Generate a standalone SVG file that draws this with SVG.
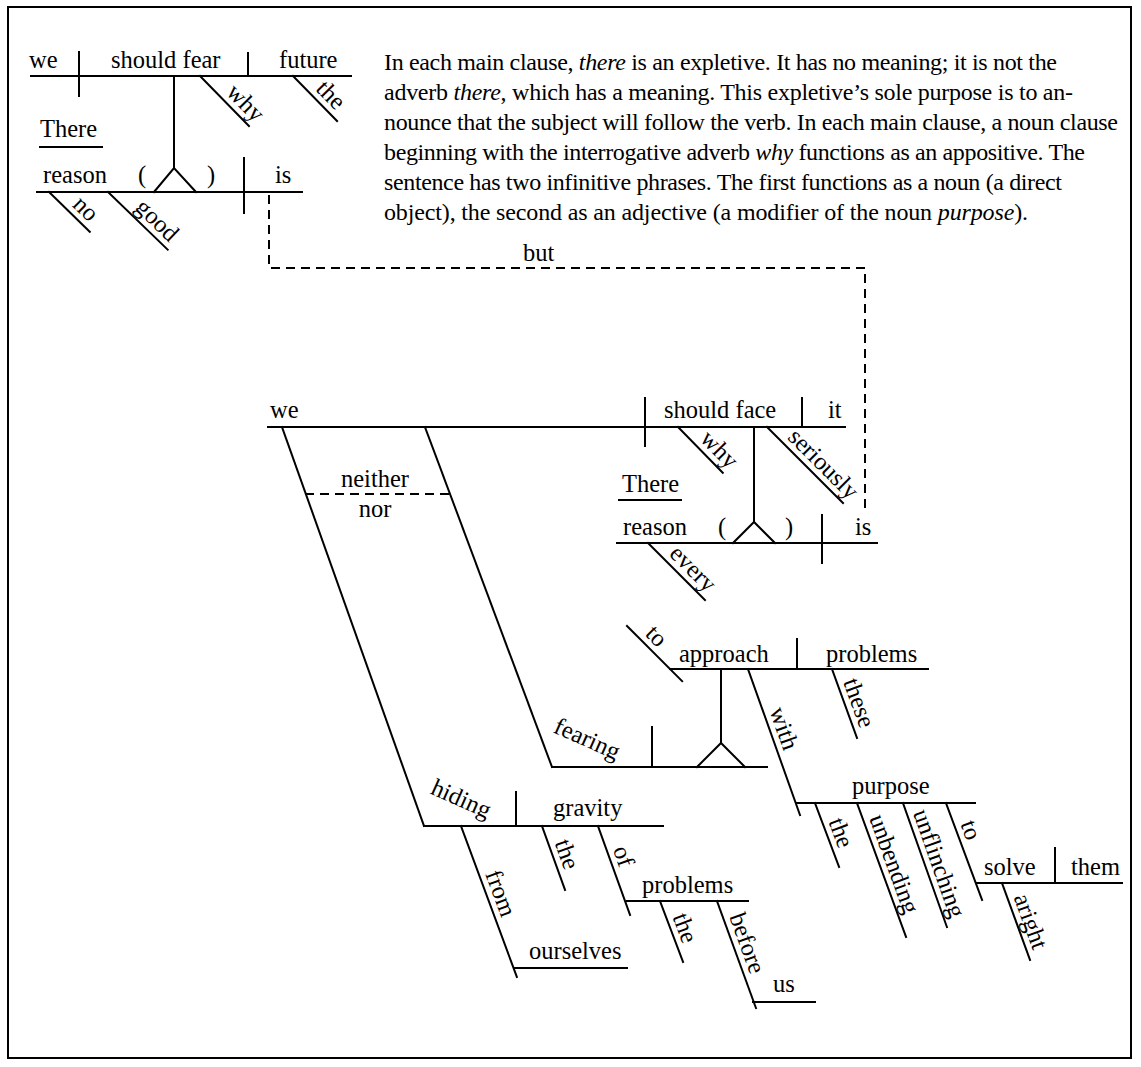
<svg xmlns="http://www.w3.org/2000/svg" width="1141" height="1067" viewBox="0 0 1141 1067">
<style>
.ln{stroke:#000;stroke-width:2;fill:none;stroke-linecap:square}
.ds{stroke:#000;stroke-width:2;fill:none;stroke-dasharray:9 6}
text{font-family:"Liberation Serif","Times New Roman",serif;font-size:24.5px;fill:#000}
.p{font-size:24px}
.m{text-anchor:middle}
</style>
<rect x="0" y="0" width="1141" height="1067" fill="#fff"/>
<rect x="8" y="7" width="1123" height="1051" fill="none" stroke="#000" stroke-width="2"/>

<g id="paragraph">
<text class="p" x="384" y="70" textLength="673" lengthAdjust="spacing">In each main clause, <tspan font-style="italic">there</tspan> is an expletive. It has no meaning; it is not the</text>
<text class="p" x="384" y="100" textLength="689" lengthAdjust="spacing">adverb <tspan font-style="italic">there</tspan>, which has a meaning. This expletive’s sole purpose is to an-</text>
<text class="p" x="384" y="130" textLength="734" lengthAdjust="spacing">nounce that the subject will follow the verb. In each main clause, a noun clause</text>
<text class="p" x="384" y="160" textLength="701" lengthAdjust="spacing">beginning with the interrogative adverb <tspan font-style="italic">why</tspan> functions as an appositive. The</text>
<text class="p" x="384" y="190" textLength="678" lengthAdjust="spacing">sentence has two infinitive phrases. The first functions as a noun (a direct</text>
<text class="p" x="384" y="220" textLength="644" lengthAdjust="spacing">object), the second as an adjective (a modifier of the noun <tspan font-style="italic">purpose</tspan>).</text>
</g>

<!-- Clause 1 -->
<g id="c1-main">
<line class="ln" x1="31" y1="76" x2="351" y2="76"/>
<line class="ln" x1="79" y1="52" x2="79" y2="96"/>
<line class="ln" x1="248" y1="53" x2="248" y2="76"/>
<text x="29" y="68">we</text>
<text x="111" y="68">should fear</text>
<text x="279" y="68">future</text>
</g>
<g id="c1-why" transform="translate(200,76) rotate(45.6)"><line class="ln" x1="0" y1="0" x2="70" y2="0"/><text class="m" x="51" y="-6">why</text></g>
<g id="c1-the" transform="translate(293,76) rotate(45.6)"><line class="ln" x1="0" y1="0" x2="63" y2="0"/><text class="m" x="40" y="-6">the</text></g>
<g id="c1-there">
<text x="40" y="137">There</text>
<line class="ln" x1="40" y1="147" x2="102" y2="147"/>
</g>
<g id="c1-reason">
<line class="ln" x1="37" y1="192" x2="302" y2="192"/>
<line class="ln" x1="244" y1="158" x2="244" y2="213"/>
<text x="43" y="183">reason</text>
<text x="138" y="183">(</text>
<text x="207" y="183">)</text>
<text x="275" y="183">is</text>
</g>
<g id="c1-no" transform="translate(49,192) rotate(44.3)"><line class="ln" x1="0" y1="0" x2="57" y2="0"/><text class="m" x="38" y="-6">no</text></g>
<g id="c1-good" transform="translate(108,192) rotate(44)"><line class="ln" x1="0" y1="0" x2="83" y2="0"/><text class="m" x="55" y="-6">good</text></g>

<!-- Clause 2 -->
<g id="c2-main">
<line class="ln" x1="268" y1="427" x2="845" y2="427"/>
<line class="ln" x1="645" y1="398" x2="645" y2="446"/>
<line class="ln" x1="802" y1="398" x2="802" y2="427"/>
<text x="270" y="418">we</text>
<text x="664" y="418">should face</text>
<text x="828" y="418">it</text>
</g>
<g id="c2-why" transform="translate(678,427) rotate(45.6)"><line class="ln" x1="0" y1="0" x2="64" y2="0"/><text class="m" x="45" y="-6">why</text></g>
<g id="c2-seriously" transform="translate(767,427) rotate(45)"><line class="ln" x1="0" y1="0" x2="107.5" y2="0"/><text class="m" x="66" y="-6">seriously</text></g>
<g id="c2-there">
<text x="622" y="492">There</text>
<line class="ln" x1="619" y1="500" x2="681" y2="500"/>
</g>
<g id="c2-reason">
<line class="ln" x1="617" y1="543" x2="877" y2="543"/>
<line class="ln" x1="822" y1="515" x2="822" y2="563"/>
<text x="623" y="535">reason</text>
<text x="718" y="535">(</text>
<text x="785" y="535">)</text>
<text x="855" y="535">is</text>
</g>
<g id="c2-every" transform="translate(648,543) rotate(45)"><line class="ln" x1="0" y1="0" x2="80.6" y2="0"/><text class="m" x="50" y="-6">every</text></g>

<!-- fearing phrase -->
<g id="fearing">
<line class="ln" x1="552" y1="767" x2="767" y2="767"/>
<line class="ln" x1="652" y1="727" x2="652" y2="767"/>
<text class="m" transform="translate(584,746) rotate(24)">fearing</text>
</g>
<g id="approach">
<line class="ln" x1="670" y1="669" x2="928" y2="669"/>
<line class="ln" x1="797" y1="639" x2="797" y2="669"/>
<text x="679" y="662">approach</text>
<text x="826" y="662">problems</text>
</g>
<g id="to1" transform="translate(627,626) rotate(45)"><line class="ln" x1="0" y1="0" x2="78" y2="0"/><text class="m" x="28" y="-6">to</text></g>
<g id="these" transform="translate(832,669) rotate(70.1)"><line class="ln" x1="0" y1="0" x2="73.4" y2="0"/><text class="m" x="41" y="-6">these</text></g>
<g id="with" transform="translate(748,669) rotate(70.4)"><line class="ln" x1="0" y1="0" x2="155" y2="0"/><text class="m" x="68" y="-6">with</text></g>
<g id="purpose">
<line class="ln" x1="796" y1="803" x2="975" y2="803"/>
<text x="852" y="794">purpose</text>
</g>
<g id="the3" transform="translate(815,803) rotate(69.4)"><line class="ln" x1="0" y1="0" x2="68.4" y2="0"/><text class="m" x="37" y="-6">the</text></g>
<g id="unbending" transform="translate(857,803) rotate(69.9)"><line class="ln" x1="0" y1="0" x2="142.7" y2="0"/><text class="m" x="70" y="-6">unbending</text></g>
<g id="unflinching" transform="translate(903,803) rotate(70.5)"><line class="ln" x1="0" y1="0" x2="131.6" y2="0"/><text class="m" x="69" y="-6">unflinching</text></g>
<g id="to2" transform="translate(946,803) rotate(69.6)"><line class="ln" x1="0" y1="0" x2="103.5" y2="0"/><text class="m" x="34" y="-6">to</text></g>
<g id="solve">
<line class="ln" x1="977" y1="883" x2="1122" y2="883"/>
<line class="ln" x1="1055" y1="848" x2="1055" y2="883"/>
<text x="984" y="875">solve</text>
<text x="1071" y="875">them</text>
</g>
<g id="aright" transform="translate(1002,883) rotate(70)"><line class="ln" x1="0" y1="0" x2="81.9" y2="0"/><text class="m" x="46" y="-6">aright</text></g>

<!-- hiding phrase -->
<g id="hiding">
<line class="ln" x1="424" y1="826" x2="663" y2="826"/>
<line class="ln" x1="516" y1="792" x2="516" y2="826"/>
<text class="m" transform="translate(458,806) rotate(24)">hiding</text>
<text x="553" y="816">gravity</text>
</g>
<g id="from" transform="translate(461,826) rotate(69.7)"><line class="ln" x1="0" y1="0" x2="161" y2="0"/><text class="m" x="77" y="-6">from</text></g>
<g id="ourselves">
<line class="ln" x1="515" y1="968" x2="627" y2="968"/>
<text x="529" y="959">ourselves</text>
</g>
<g id="the4" transform="translate(542,826) rotate(70.2)"><line class="ln" x1="0" y1="0" x2="68" y2="0"/><text class="m" x="35" y="-6">the</text></g>
<g id="of" transform="translate(598,826) rotate(70.2)"><line class="ln" x1="0" y1="0" x2="94.6" y2="0"/><text class="m" x="37" y="-6">of</text></g>
<g id="problems2">
<line class="ln" x1="627" y1="901" x2="748" y2="901"/>
<text x="642" y="893">problems</text>
</g>
<g id="the5" transform="translate(660,901) rotate(69.3)"><line class="ln" x1="0" y1="0" x2="65.2" y2="0"/><text class="m" x="34" y="-6">the</text></g>
<g id="before" transform="translate(717,901) rotate(70)"><line class="ln" x1="0" y1="0" x2="113.9" y2="0"/><text class="m" x="50" y="-6">before</text></g>
<g id="us">
<line class="ln" x1="753" y1="1002" x2="815" y2="1002"/>
<text x="773" y="992">us</text>
</g>

<g id="connectors">
<line class="ln" x1="174" y1="76" x2="174" y2="168"/>
<polyline class="ln" points="154,192 174,168 196,192"/>
<line class="ln" x1="754" y1="427" x2="754" y2="522"/>
<polyline class="ln" points="733,543 754,522 775,543"/>
<polyline class="ds" points="269,195 269,268 865,268 865,508"/>
<text x="523" y="261">but</text>
<line class="ln" x1="282" y1="427" x2="424" y2="826"/>
<line class="ln" x1="425" y1="427" x2="552" y2="767"/>
<line class="ds" x1="305" y1="494" x2="450" y2="494"/>
<text class="m" x="375" y="487">neither</text>
<text class="m" x="375" y="517">nor</text>
<line class="ln" x1="721" y1="743" x2="721" y2="669"/>
<polyline class="ln" points="697,767 721,743 745,767"/>
</g>
</svg>
